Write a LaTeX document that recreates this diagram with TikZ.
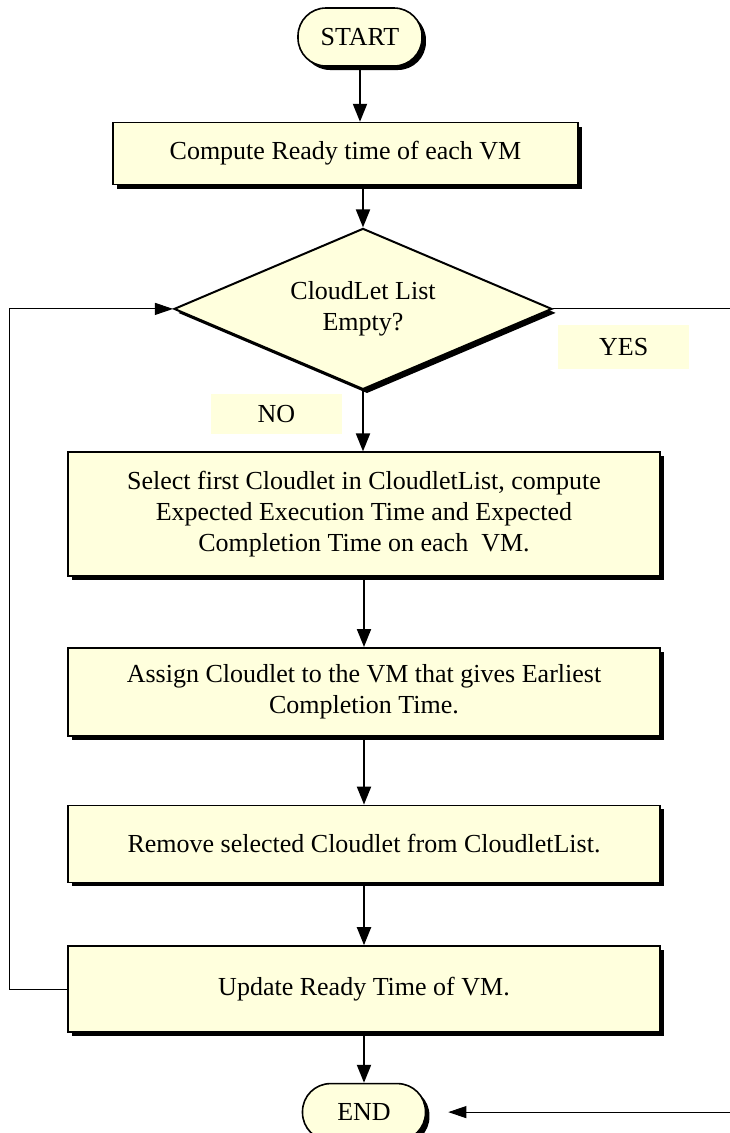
\documentclass[tikz,border=0pt]{standalone}
\usepackage{fontspec}
\setmainfont{Liberation Serif}
\usetikzlibrary{arrows.meta, positioning, shapes.geometric, shadows}
\definecolor{flowcream}{HTML}{FFFFDD}
\tikzset{
  >={Triangle[length=18pt, width=14pt]},
  flowshadow/.style={drop shadow={shadow xshift=4pt, shadow yshift=-4pt, fill=black, opacity=1}},
  box/.style={rectangle, draw=black, line width=1.6pt, fill=flowcream, flowshadow,
              align=center, inner sep=4pt, minimum width=592pt,
              font=\fontsize{26}{31}\selectfont},
  term/.style={box, rounded corners=28pt, minimum width=124pt, minimum height=58pt},
  test/.style={box, diamond, aspect=2.35, minimum width=378pt, minimum height=161pt, inner sep=0pt, line width=2pt},
  tag/.style={rectangle, fill=flowcream, minimum width=131pt, inner sep=0pt,
              font=\fontsize{26}{31}\selectfont},
  flow/.style={->, line width=2pt, draw=black},
  back/.style={-{Triangle[length=18pt, width=12pt]}, line width=1pt, draw=black},
}
\begin{document}
\begin{tikzpicture}[x=1pt, y=1pt]
  \useasboundingbox (-360,37) rectangle (369,-1096);
  \node[term] (start) {START};
  \node[box, minimum width=465pt, minimum height=62pt, below=55pt of start, xshift=-14.5pt] (ready) {Compute Ready time of each VM};
  \node[test, below=42pt of ready, xshift=17.5pt] (empty) {CloudLet List\\Empty?};
  \node[box, minimum height=124pt, below=61pt of empty, xshift=1pt] (select) {Select first Cloudlet in CloudletList, compute\\Expected Execution Time and Expected\\Completion Time on each~ VM.};
  \node[box, minimum height=88pt, below=70pt of select] (assign) {Assign Cloudlet to the VM that gives Earliest\\Completion Time.};
  \node[box, minimum height=77pt, below=68pt of assign] (remove) {Remove selected Cloudlet from CloudletList.};
  \node[box, minimum height=86pt, below=62pt of remove] (update) {Update Ready Time of VM.};
  \node[term, minimum width=123pt, minimum height=57pt, below=50pt of update] (stop) {END};
  % branch labels
  \node[tag, minimum height=40pt, below left=3pt and 21pt of empty.south] (no) {NO};
  \node[tag, minimum height=44pt, below right=16pt and 5pt of empty.east] (yes) {YES};

  \draw[flow] (start) -- (start |- ready.north);
  \draw[flow] (ready.south -| empty) -- (empty);
  \draw[flow] (empty) -- (empty |- select.north);
  \draw[flow] (select) -- (assign);
  \draw[flow] (assign) -- (remove);
  \draw[flow] (remove) -- (update);
  \draw[flow] (update) -- (stop);
  % loop back and exit
  \draw[back] (update.west) -- ++(-58,0) |- (empty.west);
  \draw[back, shorten >=22pt] (empty.east) -- ++(200,0) |- (stop.east);
\end{tikzpicture}
\end{document}
